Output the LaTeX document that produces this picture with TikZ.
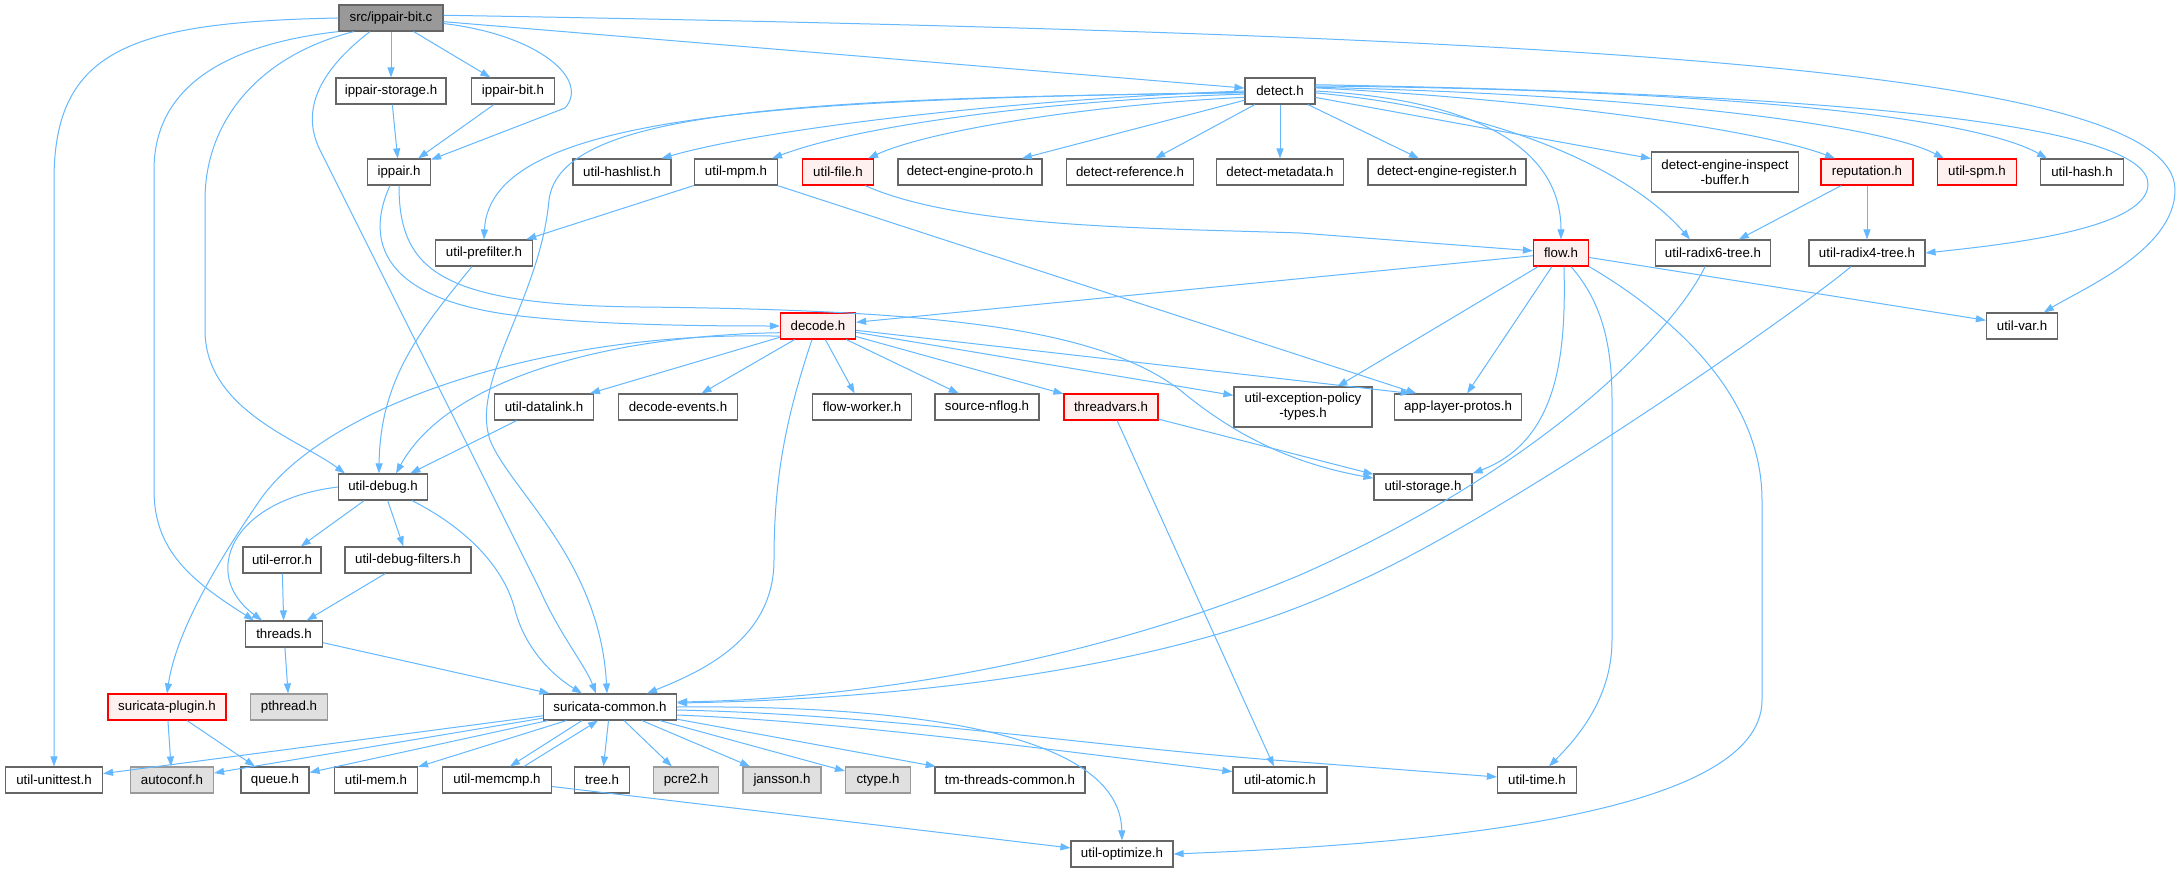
\documentclass[tikz,border=0pt]{standalone}
\usepackage{fontspec}
\setmainfont{Liberation Sans}
\usetikzlibrary{arrows.meta}
\definecolor{edgec}{HTML}{63B8FF}
\definecolor{redfill}{HTML}{FFF0F0}
\definecolor{grayfill}{HTML}{E0E0E0}
\definecolor{mainfill}{HTML}{999999}
\definecolor{bord}{HTML}{666666}
\definecolor{grayb}{HTML}{999999}
\begin{document}
\begin{tikzpicture}[x=1pt,y=-1pt,
  font=\fontsize{13.3}{15}\selectfont,
  nd/.style={draw=bord,fill=white,line width=1.15pt,minimum height=26pt,inner sep=0pt,align=center},
  mainnd/.style={nd,fill=mainfill},
  rednd/.style={nd,draw=red,fill=redfill},
  graynd/.style={nd,draw=grayb,fill=grayfill},
  dep/.style={draw=edgec,line width=1pt,-{Triangle[length=10pt,width=7pt]}}]
\fill[white] (0,0) rectangle (2180,872);
\useasboundingbox (0,0) rectangle (2180,872);
% nodes
\node[mainnd,minimum width=104pt] (S) at (391,18) {src/ippair-bit.c};
\node[nd,minimum width=110pt] (IPS) at (391,91) {ippair-storage.h};
\node[nd,minimum width=83pt] (IPB) at (513,91) {ippair-bit.h};
\node[nd,minimum width=70pt] (DT) at (1280,91) {detect.h};
\node[nd,minimum width=63pt] (IP) at (399,172) {ippair.h};
\node[nd,minimum width=98pt] (UHL) at (622,172) {util-hashlist.h};
\node[nd,minimum width=83pt] (UMPM) at (736,172) {util-mpm.h};
\node[rednd,minimum width=71pt] (UFILE) at (838,172) {util-file.h};
\node[nd,minimum width=144pt] (DEP) at (970,172) {detect-engine-proto.h};
\node[nd,minimum width=127pt] (DREF) at (1130,172) {detect-reference.h};
\node[nd,minimum width=127pt] (DMETA) at (1280,172) {detect-metadata.h};
\node[nd,minimum width=158pt] (DREG) at (1447,172) {detect-engine-register.h};
\node[nd,minimum width=147pt,minimum height=40pt] (DEIB) at (1725,172) {detect-engine-inspect\\-buffer.h};
\node[rednd,minimum width=92pt] (REP) at (1867,172) {reputation.h};
\node[rednd,minimum width=79pt] (USPM) at (1977,172) {util-spm.h};
\node[nd,minimum width=83pt] (UHASH) at (2082,172) {util-hash.h};
\node[nd,minimum width=97pt] (UPF) at (484,253) {util-prefilter.h};
\node[rednd,minimum width=55pt] (FLOW) at (1561,253) {flow.h};
\node[nd,minimum width=115pt] (R6) at (1713,253) {util-radix6-tree.h};
\node[nd,minimum width=116pt] (R4) at (1867,253) {util-radix4-tree.h};
\node[rednd,minimum width=75pt] (DEC) at (818,326) {decode.h};
\node[nd,minimum width=71pt] (UVAR) at (2022,326) {util-var.h};
\node[nd,minimum width=99pt] (UDL) at (544,407) {util-datalink.h};
\node[nd,minimum width=119pt] (DEV) at (678,407) {decode-events.h};
\node[nd,minimum width=99pt] (FW) at (862,407) {flow-worker.h};
\node[nd,minimum width=104pt] (SNF) at (987,407) {source-nflog.h};
\node[rednd,minimum width=94pt] (TV) at (1111,407) {threadvars.h};
\node[nd,minimum width=138pt,minimum height=40pt] (UEP) at (1303,407) {util-exception-policy\\-types.h};
\node[nd,minimum width=127pt] (ALP) at (1458,407) {app-layer-protos.h};
\node[nd,minimum width=89pt] (UDBG) at (383,487) {util-debug.h};
\node[nd,minimum width=98pt] (UST) at (1423,487) {util-storage.h};
\node[nd,minimum width=78pt] (UERR) at (282,560) {util-error.h};
\node[nd,minimum width=126pt] (UDF) at (408,560) {util-debug-filters.h};
\node[nd,minimum width=77pt] (TH) at (284,634) {threads.h};
\node[rednd,minimum width=118pt] (SPL) at (167,707) {suricata-plugin.h};
\node[graynd,minimum width=77pt] (PTH) at (289,707) {pthread.h};
\node[nd,minimum width=133pt] (SC) at (610,707) {suricata-common.h};
\node[nd,minimum width=97pt] (UUT) at (54,780) {util-unittest.h};
\node[graynd,minimum width=83pt] (ACF) at (172,780) {autoconf.h};
\node[nd,minimum width=68pt] (Q) at (275,780) {queue.h};
\node[nd,minimum width=83pt] (UMEM) at (376,780) {util-mem.h};
\node[nd,minimum width=109pt] (UMC) at (497,780) {util-memcmp.h};
\node[nd,minimum width=55pt] (TREE) at (602,780) {tree.h};
\node[graynd,minimum width=65pt] (PCRE) at (686,780) {pcre2.h};
\node[graynd,minimum width=78pt] (JAN) at (782,780) {jansson.h};
\node[graynd,minimum width=65pt] (CT) at (878,780) {ctype.h};
\node[nd,minimum width=150pt] (TMT) at (1010,780) {tm-threads-common.h};
\node[nd,minimum width=94pt] (UAT) at (1280,780) {util-atomic.h};
\node[nd,minimum width=79pt] (UTIME) at (1537,780) {util-time.h};
\node[nd,minimum width=102pt] (UOPT) at (1122,854) {util-optimize.h};
% edges from src
\draw[dep] (S) -- (IPS);
\draw[dep] (S) -- (IPB);
\draw[dep] (S.-6) .. controls (540,35) and (590,80) .. (565,108) -- (IP);
\draw[dep] (S.-4) -- (DT);
\draw[dep] (S.3) .. controls (1600,35) and (2175,70) .. (2175,190) .. controls (2175,250) and (2080,290) .. (UVAR);
\draw[dep] (S.west) .. controls (130,22) and (54,50) .. (54,180) -- (UUT);
\draw[dep] (S.south west) .. controls (220,45) and (154,90) .. (154,170) -- (154,490) .. controls (154,550) and (190,580) .. ([xshift=-30pt]TH.north);
\draw[dep] ([xshift=-37pt]S.south) .. controls (260,55) and (205,120) .. (205,200) -- (205,330) .. controls (205,410) and (300,440) .. ([xshift=-38pt]UDBG.north);
\draw[dep] ([xshift=-21pt]S.south) .. controls (320,70) and (300,110) .. (320,150) -- (540,590) .. controls (560,635) and (585,665) .. ([xshift=-14pt]SC.north);
% ippair
\draw[dep] (IPS) -- (IP);
\draw[dep] (IPB) -- (IP);
\draw[dep] ([xshift=-9pt]IP.south) .. controls (365,240) and (380,300) .. (520,316) .. controls (600,325) and (700,326) .. (DEC.west);
\draw[dep] (IP.south) .. controls (399,270) and (440,305) .. (640,307) .. controls (950,310) and (1100,330) .. (1180,390) .. controls (1240,440) and (1300,465) .. (UST);
% detect.h
\draw[dep] (DT.180) .. controls (1000,100) and (760,130) .. ([xshift=-10pt]UHL.north east);
\draw[dep] (DT.185) .. controls (1050,100) and (860,125) .. ([xshift=-6pt]UMPM.north east);
\draw[dep] (DT.190) .. controls (1090,105) and (930,130) .. ([xshift=-6pt]UFILE.north east);
\draw[dep] (DT) -- (DEP);
\draw[dep] (DT) -- (DREF);
\draw[dep] (DT) -- (DMETA);
\draw[dep] (DT) -- (DREG);
\draw[dep] (DT) -- (DEIB);
\draw[dep] (DT.5) .. controls (1550,100) and (1760,130) .. ([xshift=-32pt]REP.north);
\draw[dep] (DT.6) .. controls (1650,95) and (1880,125) .. ([xshift=-33pt]USPM.north);
\draw[dep] (DT.8) .. controls (1750,90) and (1980,120) .. ([xshift=-35pt]UHASH.north);
\draw[dep] (DT.0) .. controls (1480,100) and (1561,150) .. (FLOW.north);
\draw[dep] (DT.-3) .. controls (1500,110) and (1630,170) .. ([xshift=-23pt]R6.north);
\draw[dep] (DT.10) .. controls (1900,95) and (2150,130) .. (2148,185) .. controls (2146,230) and (2000,245) .. (R4.east);
\draw[dep] (DT.182) .. controls (800,100) and (490,110) .. (UPF.north);
\draw[dep] (DT.183) .. controls (800,98) and (560,110) .. (549,200) .. controls (540,300) and (470,380) .. (490,440) .. controls (510,490) and (600,560) .. ([xshift=-3pt]SC.north);
% level 3
\draw[dep] (UMPM) -- (UPF);
\draw[dep] (UMPM) -- (ALP);
\draw[dep] ([xshift=27pt]UFILE.south) .. controls (960,228) and (1150,228) .. (1300,233) -- (FLOW);
\draw[dep] (REP) -- (R6);
\draw[dep] (REP) -- (R4);
% flow.h
\draw[dep] (FLOW) -- (DEC);
\draw[dep] (FLOW) -- (UEP);
\draw[dep] (FLOW) -- (ALP);
\draw[dep] (FLOW) -- (UVAR);
\draw[dep] ([xshift=3pt]FLOW.south) .. controls (1566,350) and (1560,440) .. (UST.north east);
\draw[dep] ([xshift=10pt]FLOW.south) .. controls (1600,300) and (1612,340) .. (1612,400) -- (1612,640) .. controls (1612,700) and (1575,740) .. ([xshift=12pt]UTIME.north);
\draw[dep] (FLOW.south east) .. controls (1680,320) and (1762,400) .. (1762,500) -- (1762,700) .. controls (1762,820) and (1400,845) .. (UOPT.east);
% decode.h
\draw[dep] (DEC) -- (UDL);
\draw[dep] (DEC) -- (DEV);
\draw[dep] (DEC) -- (FW);
\draw[dep] (DEC) -- (SNF);
\draw[dep] (DEC) -- (TV);
\draw[dep] (DEC) -- (UEP);
\draw[dep] (DEC) -- (ALP.164);
\draw[dep] (DEC.190) .. controls (620,335) and (450,375) .. ([xshift=13pt]UDBG.north);
\draw[dep] (DEC.195) .. controls (560,330) and (330,400) .. (260,500) .. controls (205,580) and (175,640) .. (SPL.north);
\draw[dep] ([xshift=-6pt]DEC.south) .. controls (785,420) and (774,480) .. (774,560) .. controls (774,640) and (700,672) .. ([xshift=37pt]SC.north);
% middle
\draw[dep] (UDL) -- (UDBG);
\draw[dep] ([xshift=-12pt]UPF.south) .. controls (420,330) and (380,380) .. ([xshift=-4pt]UDBG.north);
\draw[dep] (TV) -- (UST);
\draw[dep] (TV) -- (UAT);
\draw[dep] (UDBG) -- (UERR);
\draw[dep] (UDBG) -- (UDF);
\draw[dep] (UDBG.west) .. controls (230,500) and (200,575) .. ([xshift=-22pt]TH.north);
\draw[dep] ([xshift=29pt]UDBG.south) .. controls (470,530) and (505,570) .. (515,610) .. controls (527,655) and (560,680) .. ([xshift=-28pt]SC.north);
\draw[dep] (UERR) -- (TH);
\draw[dep] (UDF) -- (TH);
\draw[dep] (TH) -- (PTH);
\draw[dep] (TH) -- (SC);
\draw[dep] (SPL) -- (ACF);
\draw[dep] (SPL) -- (Q);
% radix trees to suricata-common
\draw[dep] ([xshift=-8pt]R6.south) .. controls (1680,320) and (1560,460) .. (1300,575) .. controls (1050,680) and (800,700) .. ([yshift=5pt]SC.east);
\draw[dep] ([xshift=-16pt]R4.south) .. controls (1800,310) and (1500,520) .. (1350,585) .. controls (1150,680) and (850,700) .. ([yshift=4pt]SC.east);
% suricata-common.h
\draw[dep] (SC) -- (UUT);
\draw[dep] (SC) -- (ACF);
\draw[dep] (SC) -- (Q);
\draw[dep] (SC) -- (UMEM);
\draw[dep] ([xshift=-28pt]SC.south) -- ([xshift=13pt]UMC.north);
\draw[dep] ([xshift=27pt]UMC.north) -- ([xshift=-12pt]SC.south);
\draw[dep] (SC) -- (TREE);
\draw[dep] (SC) -- (PCRE);
\draw[dep] (SC) -- (JAN);
\draw[dep] (SC) -- (CT);
\draw[dep] (SC) -- (TMT);
\draw[dep] ([yshift=-8pt]SC.east) .. controls (850,722) and (1050,750) .. (UAT.170);
\draw[dep] ([yshift=-3pt]SC.east) .. controls (900,715) and (1100,748) .. (1300,762) -- (UTIME);
\draw[dep] (SC.east) .. controls (900,705) and (1120,730) .. (UOPT.north);
\draw[dep] (UMC) -- (UOPT);
\end{tikzpicture}
\end{document}
